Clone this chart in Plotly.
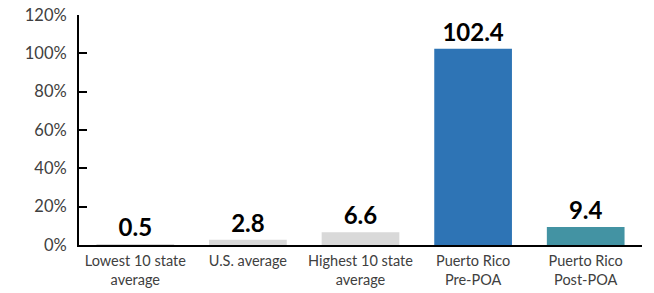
import plotly.graph_objects as go

categories = ["Lowest 10 state<br>average", "U.S. average", "Highest 10 state<br>average",
              "Puerto Rico<br>Pre-POA", "Puerto Rico<br>Post-POA"]
values = [0.5, 2.8, 6.6, 102.4, 9.4]
labels = ["0.5", "2.8", "6.6", "102.4", "9.4"]
colors = ["#D9D9D9", "#D9D9D9", "#D9D9D9", "#2E74B5", "#4393A3"]
yticks = [0, 20, 40, 60, 80, 100, 120]
yticklabels = ["0%", "20%", "40%", "60%", "80%", "100%", "120%"]

font = "Lato"

fig = go.Figure(go.Bar(
    x=categories, y=values, marker=dict(color=colors, line=dict(width=0)),
    text=labels, textposition="outside", cliponaxis=False, constraintext="none",
    textfont=dict(family=font, size=24, color="#000000", weight="bold"),
))
fig.update_layout(
    width=654, height=293, margin=dict(l=79, r=12, t=15, b=48, autoexpand=False),
    paper_bgcolor="white", plot_bgcolor="white", bargap=0.31, showlegend=False,
    font=dict(family=font, color="#404040"),
)
fig.update_yaxes(range=[0, 120], tickvals=yticks, ticktext=yticklabels, automargin=False,
                 showgrid=False, zeroline=False, showline=True, linecolor="#000000",
                 linewidth=2, ticks="inside", ticklen=8, tickwidth=2, tickcolor="#000000",
                 tickfont=dict(size=16.5, color="#404040"), ticklabelstandoff=7)
fig.update_xaxes(showline=True, linecolor="#000000", linewidth=2, showgrid=False, automargin=False,
                 ticks="", tickfont=dict(size=14.5, color="#404040"), ticklabelstandoff=2)
fig.write_html("out.html", config={"displayModeBar": False},
               post_script="document.body.style.margin='0px';")
